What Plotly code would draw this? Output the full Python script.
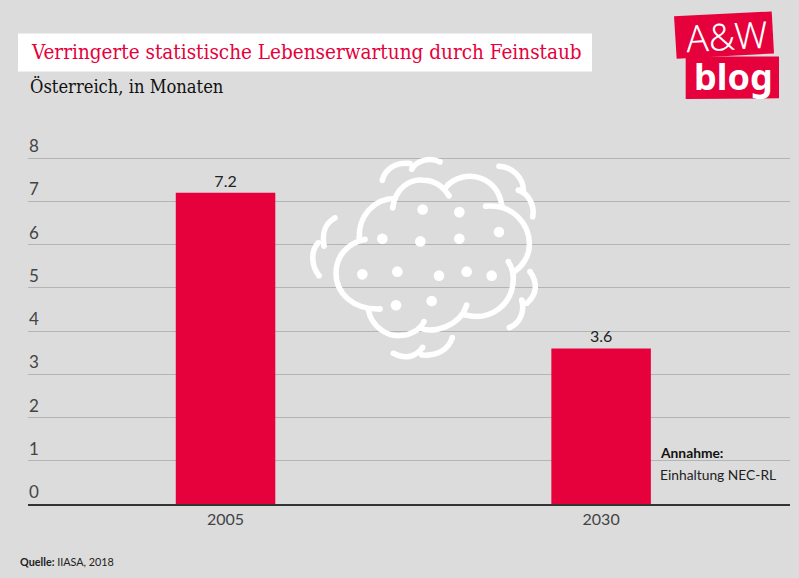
import plotly.graph_objects as go

# --- Data ---
years = ["2005", "2030"]
months = [7.2, 3.6]
y_ticks = [0, 1, 2, 3, 4, 5, 6, 7, 8]

RED = "#e6003c"
BG = "#dcdcdc"
SANS = "Lato"
SLAB = "DejaVu Serif Condensed"

W, H = 799, 578
L, R, B = 28, 790, 504.4
UNIT = 43.3            # pixels per month
Y_MAX = 9              # headroom so the "8" label is not clipped
T = B - Y_MAX * UNIT


def px(x, y):
    # pixel position on the page -> paper coordinates
    return (x - L) / (R - L), (B - y) / (B - T)


def zoomed(x, y):
    # cloud was measured on a 3x crop starting at (300, 145)
    return px(300 + x / 3, 145 + y / 3)


# --- Cloud decoration, one list per stroke ---
cloud_strokes = [
    [(195, 283), (140, 295), (108, 335), (108, 385), (108, 445), (160, 495), (240, 492)],
    [(205, 495), (215, 545), (260, 575), (300, 572), (330, 572), (360, 555), (372, 530)],
    [(360, 550), (400, 565), (480, 545), (500, 480)],
    [(495, 510), (570, 530), (640, 480), (640, 400), (640, 385), (635, 365), (625, 350)],
    [(557, 183), (640, 175), (690, 240), (688, 300), (688, 335), (665, 365), (645, 378)],
    [(435, 130), (460, 95), (510, 85), (545, 100), (580, 115), (600, 145), (605, 180)],
    [(278, 188), (285, 130), (330, 100), (370, 105), (405, 105), (430, 125), (447, 152)],
    [(178, 278), (175, 215), (220, 160), (285, 160)],
    [(247, 105), (255, 70), (290, 50), (330, 55)],
    [(335, 72), (350, 45), (390, 35), (420, 50)],
    [(597, 63), (640, 65), (670, 100), (670, 135)],
    [(655, 135), (685, 145), (705, 180), (698, 215)],
    [(105, 218), (75, 235), (65, 260), (72, 303)],
    [(57, 392), (35, 365), (30, 320), (55, 293)],
    [(690, 380), (715, 415), (710, 450), (680, 475)],
    [(665, 465), (675, 500), (660, 535), (628, 548)],
    [(457, 578), (445, 615), (410, 635), (365, 630)],
    [(368, 607), (350, 635), (315, 645), (280, 625)],
]
cloud_dots = [(368, 193), (478, 201), (597, 261), (247, 281), (361, 289), (478, 281), (187, 388),
              (292, 380), (417, 392), (500, 380), (575, 392), (288, 481), (395, 468)]


def dot(x, y, r):
    x0, y0 = zoomed(x - r, y - r)
    x1, y1 = zoomed(x + r, y + r)
    return dict(type="circle", xref="paper", yref="paper", x0=x0, y0=y0, x1=x1, y1=y1,
                fillcolor="white", line_width=0, layer="above")


shapes = []

# white box behind the title
bx0, by0 = px(18, 33)
bx1, by1 = px(592, 71)
shapes.append(dict(type="rect", xref="paper", yref="paper", x0=bx0, y0=by0, x1=bx1, y1=by1,
                   fillcolor="white", line_width=0, layer="below"))

for stroke in cloud_strokes:
    pts = [zoomed(*p) for p in stroke]
    path = "M%.5f,%.5f" % pts[0]
    for i in range(1, len(pts), 3):
        path += " C%.5f,%.5f %.5f,%.5f %.5f,%.5f" % (*pts[i], *pts[i + 1], *pts[i + 2])
    shapes.append(dict(type="path", xref="paper", yref="paper", path=path,
                       line=dict(color="white", width=5.5), layer="above"))
    # round ends
    shapes.append(dot(stroke[0][0], stroke[0][1], 8.5))
    shapes.append(dot(stroke[-1][0], stroke[-1][1], 8.5))
for d in cloud_dots:
    shapes.append(dot(d[0], d[1], 16))

# logo blocks
for corners in ([(674, 15.7), (771.7, 11), (774, 53), (676.7, 58.3)],
                [(685.7, 56), (779, 56), (779, 98), (685.7, 98.7)]):
    pts = [px(*c) for c in corners]
    path = "M" + " L".join("%.5f,%.5f" % p for p in pts) + " Z"
    shapes.append(dict(type="path", xref="paper", yref="paper", path=path,
                       fillcolor=RED, line_width=0, layer="below"))


def note(x, y, text, size, color="#222222", font=SANS, anchor="left", angle=0, weight=None):
    ax, ay = px(x, y)
    return dict(xref="paper", yref="paper", x=ax, y=ay, text=text, showarrow=False,
                xanchor=anchor, yanchor="middle", textangle=angle,
                font=dict(family=font, size=size, color=color, weight=weight))


annotations = [
    note(28.5, 52, "Verringerte statistische Lebenserwartung durch Feinstaub", 20.5, RED, SLAB),
    note(28, 86, "Österreich, in Monaten", 18.2, "#111111", SLAB),
    note(658, 453, "<b>Annahme:</b>", 13.8, "#111111"),
    note(658, 475, "Einhaltung NEC-RL", 13.8, "#222222"),
    note(18, 562, "<b>Quelle:</b> IIASA, 2018", 10.8, "#222222"),
    note(727, 35, "A&amp;W", 37, "white", "Noto Sans", "center", -3, 300),
    note(733, 76, "<b>blog</b>", 36, "white", "Noto Sans", "center"),
]

fig = go.Figure(go.Bar(
    x=years, y=months, width=0.265, marker=dict(color=RED, line_width=0),
    text=[str(v) for v in months], textposition="outside", cliponaxis=False,
    textfont=dict(family=SANS, size=16, color="#222222"),
))

fig.update_layout(
    width=W, height=H,
    margin=dict(l=L, r=W - R, t=T, b=H - B, pad=0),
    paper_bgcolor=BG, plot_bgcolor=BG,
    showlegend=False,
    shapes=shapes, annotations=annotations,
)
fig.update_xaxes(type="category", range=[-0.526, 1.503], showgrid=False, ticks="",
                 showline=True, linecolor="#333333", linewidth=2,
                 tickfont=dict(family=SANS, size=16, color="#444444"))
fig.update_yaxes(range=[0, Y_MAX], tickvals=y_ticks, showgrid=True, gridcolor="#b4b4b4", gridwidth=1,
                 zeroline=False, ticks="", ticklabelposition="inside top", ticklabelstandoff=-2,
                 tickfont=dict(family=SANS, size=17, color="#444444"))

fig.write_html("out.html", config={"displayModeBar": False},
               post_script="document.body.style.margin='0';")
